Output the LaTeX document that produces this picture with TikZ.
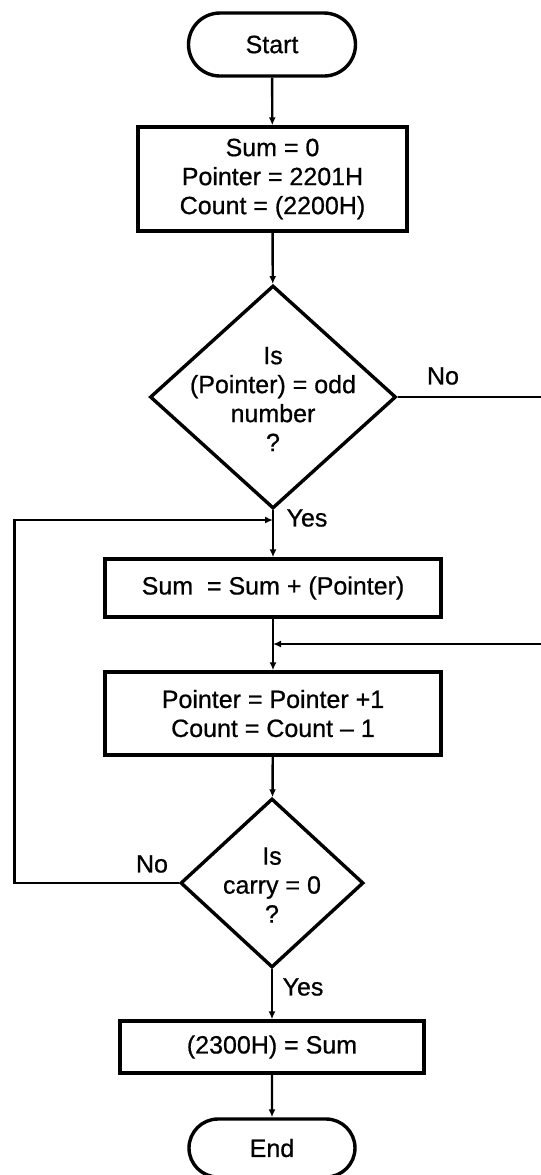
\documentclass[tikz,border=0pt]{standalone}
\usepackage{fontspec}
\setmainfont[FakeBold=0.7]{Liberation Sans}
\usetikzlibrary{shapes.geometric,shapes.misc,arrows.meta}
\begin{document}
\begin{tikzpicture}[x=0.5pt,y=-0.5pt,
  font=\fontsize{12.5}{14.5}\selectfont,
  box/.style={draw, line width=1.7pt, rectangle, inner sep=0pt, align=center},
  term/.style={draw, line width=1.7pt, rounded rectangle, inner sep=0pt},
  dia/.style={draw, line width=1.7pt, diamond, inner sep=0pt},
  txt/.style={align=center, inner sep=0pt},
  conn/.style={line width=1.2pt, -{Latex[length=4pt,width=3.5pt]}},
  plain/.style={line width=1.2pt},
  lab/.style={inner sep=0pt}
]
\useasboundingbox (0,0) rectangle (541,1175);
\fill[white] (0,0) rectangle (541,1175);

\node[term, minimum width=83.5pt, minimum height=31.5pt] (start) at (272,44.5) {Start};
\node[box, minimum width=134.5pt, minimum height=52pt] (init) at (272.5,179)
  {Sum = 0\\Pointer = 2201H\\Count = (2200H)};
\node[dia, minimum width=123pt, minimum height=111.5pt] (d1) at (273,397) {};
\node[txt] (d1t) at (273,399) {Is\\(Pointer) = odd\\number\\?};
\node[box, minimum width=168pt, minimum height=29pt] (add) at (273,588) {Sum\ \ = Sum + (Pointer)};
\node[box, minimum width=168pt, minimum height=41.5pt] (inc) at (273,713.5)
  {Pointer = Pointer +1\\Count = Count -- 1};
\node[dia, minimum width=91.5pt, minimum height=84.5pt] (d2) at (272,883) {};
\node[txt] (d2t) at (272,885) {Is\\carry = 0\\?};
\node[box, minimum width=152pt, minimum height=26pt] (store) at (272,1047) {(2300H) = Sum};
\node[term, minimum width=83pt, minimum height=29pt] (end) at (272,1148) {End};

\coordinate (noout) at (541,397);
\coordinate (noin) at (541,644);
\coordinate (loopx) at (14.5,520);

\draw[conn] (start) -- (init);
\draw[conn] (init) -- (d1);
\draw[conn] (d1) -- (add);
\draw[conn] (add) -- (inc);
\draw[conn] (inc) -- (d2);
\draw[conn] (d2) -- (store);
\draw[conn] (store) -- (end);
\draw[plain] (d1.east) -- (noout);
\draw[conn] (noin) -- (add.south |- noin);
\draw[conn] (d2.west) -| (loopx) -- (d1.south |- loopx);

\node[lab] (l1) at (443,376) {No};
\node[lab] (l2) at (307,518) {Yes};
\node[lab] (l3) at (152,864) {No};
\node[lab] (l4) at (303,987) {Yes};
\end{tikzpicture}
\end{document}
